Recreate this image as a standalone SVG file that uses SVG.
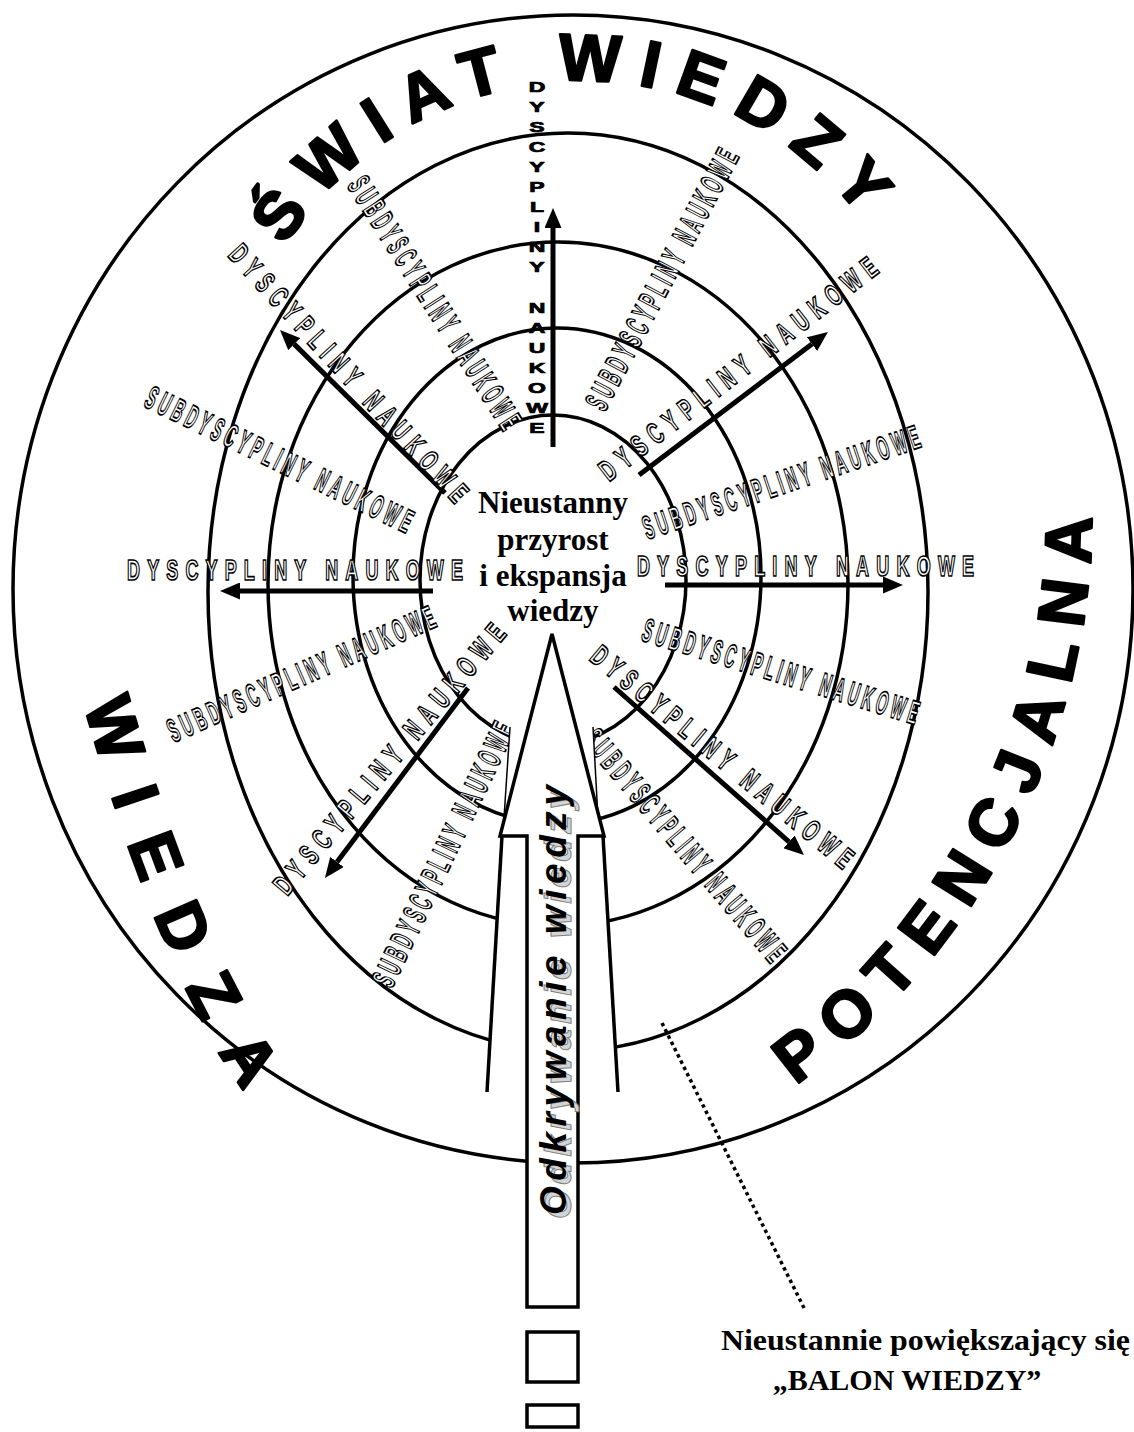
<svg xmlns="http://www.w3.org/2000/svg" width="1134" height="1432" viewBox="0 0 1134 1432">
<defs>
<style>
.ring{fill:none;stroke:#000;stroke-width:3.5}
.spoke{fill:none;stroke:#000;stroke-width:5;marker-end:url(#ah)}
.big{font-family:"Liberation Sans",Arial,sans-serif;font-weight:bold;font-size:66px;fill:#000;stroke:#000;stroke-width:2.5px;stroke-linejoin:round}
.dl{font-family:"Liberation Sans",Arial,sans-serif;font-weight:bold;font-size:30px;fill:#fff;stroke:#000;stroke-width:1.4px;vector-effect:non-scaling-stroke;text-anchor:middle}
.sl{font-family:"Liberation Sans",Arial,sans-serif;font-weight:bold;font-size:33px;fill:#fff;stroke:#000;stroke-width:1.4px;vector-effect:non-scaling-stroke;text-anchor:middle}
.vl{font-family:"Liberation Sans",Arial,sans-serif;font-weight:bold;font-size:23px;fill:#000;stroke:#000;stroke-width:1.2px;text-anchor:middle;white-space:pre}
.ser{font-family:"Liberation Serif","Times New Roman",serif;font-weight:bold;font-size:31px;fill:#000;text-anchor:middle}
.odk{font-family:"Liberation Sans",Arial,sans-serif;font-weight:bold;font-style:italic;font-size:37px}
.wh{fill:#fff;stroke:none}
.edge{fill:none;stroke:#000;stroke-width:3.5}
</style>
<marker id="ah" markerUnits="strokeWidth" markerWidth="4" markerHeight="3.4" viewBox="0 0 4 3.4" refX="0" refY="1.7" orient="auto"><path d="M0,0 L4,1.7 L0,3.4 z" fill="#000"/></marker>
<path id="pTop" d="M237.3,371.1 A351,351 0 0 1 928.7,371.1"/>
<path id="pLeft" d="M80,690 Q157,969 250,1100"/>
<path id="pRight" d="M739.5,1120.5 A705,705 0 0 0 1081.3,387.6"/>
</defs>
<rect width="1134" height="1432" fill="#fff"/>

<g id="rings">
<ellipse id="outer" class="ring" cx="573" cy="589" rx="560" ry="574"/>
<ellipse id="ring4" class="ring" cx="568" cy="592" rx="360" ry="459"/>
<ellipse id="ring3" class="ring" cx="558" cy="584" rx="290" ry="342"/>
<ellipse id="ring2" class="ring" cx="557" cy="576" rx="204" ry="248"/>
<ellipse id="ring1" class="ring" cx="553" cy="580" rx="133" ry="165"/>
</g>

<g id="titles">
<text class="big" letter-spacing="17.5"><textPath href="#pTop" startOffset="134">ŚWIAT WIEDZY</textPath></text>
<text class="big" letter-spacing="32"><textPath href="#pLeft" startOffset="15">WIEDZA</textPath></text>
<text class="big" letter-spacing="17"><textPath href="#pRight" startOffset="66">POTENCJALNA</textPath></text>
</g>

<g id="connectors">
<line class="spoke" x1="553" y1="447" x2="553" y2="228"/>
<line class="spoke" x1="433" y1="591" x2="240" y2="591"/>
<line class="spoke" x1="665" y1="585" x2="883" y2="585"/>
<line class="spoke" x1="445" y1="493" x2="294.2" y2="344.1"/>
<line class="spoke" x1="639" y1="475" x2="812" y2="344.1"/>
<line class="spoke" x1="468" y1="688" x2="337" y2="862"/>
<line class="spoke" x1="614" y1="687" x2="789" y2="841.8"/>
<line id="leader" x1="662" y1="1023" x2="805" y2="1310" stroke="#000" stroke-width="3.5" stroke-dasharray="3.5 3.5"/>
</g>

<g id="labels">
<text class="vl" transform="scale(1,0.6)"><tspan x="537" y="153.2">D</tspan><tspan x="537" y="186.7">Y</tspan><tspan x="537" y="220.1">S</tspan><tspan x="537" y="253.5">C</tspan><tspan x="537" y="287">Y</tspan><tspan x="537" y="320.4">P</tspan><tspan x="537" y="353.8">L</tspan><tspan x="537" y="387.3">I</tspan><tspan x="537" y="420.7">N</tspan><tspan x="537" y="454.1">Y</tspan><tspan x="537" y="487.6"> </tspan><tspan x="537" y="521">N</tspan><tspan x="537" y="554.4">A</tspan><tspan x="537" y="587.9">U</tspan><tspan x="537" y="621.3">K</tspan><tspan x="537" y="654.7">O</tspan><tspan x="537" y="688.2">W</tspan><tspan x="537" y="721.6">E</tspan></text>

<text class="dl" transform="translate(295,569) scale(0.6,1)" dy="0.36em" textLength="560" lengthAdjust="spacing">DYSCYPLINY NAUKOWE</text>
<text class="dl" transform="translate(805.5,565) scale(0.6,1)" dy="0.36em" textLength="562" lengthAdjust="spacing">DYSCYPLINY NAUKOWE</text>
<text class="dl" transform="translate(349,373) rotate(47.5) scale(0.6,1)" dy="0.36em" textLength="563" lengthAdjust="spacing">DYSCYPLINY NAUKOWE</text>
<text class="dl" transform="translate(389,758.5) rotate(-50) scale(0.6,1)" dy="0.36em" textLength="571" lengthAdjust="spacing">DYSCYPLINY NAUKOWE</text>
<text class="dl" transform="translate(722.5,756.5) rotate(39.6) scale(0.6,1)" dy="0.36em" textLength="551" lengthAdjust="spacing">DYSCYPLINY NAUKOWE</text>
<text class="dl" transform="translate(738,368.5) rotate(-37.8) scale(0.6,1)" dy="0.36em" textLength="572" lengthAdjust="spacing">DYSCYPLINY NAUKOWE</text>

<text class="sl" transform="translate(435,302.5) rotate(57.5) scale(0.45,1)" dy="0.36em" textLength="650" lengthAdjust="spacing">SUBDYSCYPLINY NAUKOWE</text>
<text class="sl" transform="translate(279.5,459) rotate(25.9) scale(0.45,1)" dy="0.36em" textLength="651" lengthAdjust="spacing">SUBDYSCYPLINY NAUKOWE</text>
<text class="sl" transform="translate(301,673.5) rotate(-23.8) scale(0.45,1)" dy="0.36em" textLength="643" lengthAdjust="spacing">SUBDYSCYPLINY NAUKOWE</text>
<text class="sl" transform="translate(443,854) rotate(-64.5) scale(0.45,1)" dy="0.36em" textLength="641" lengthAdjust="spacing">SUBDYSCYPLINY NAUKOWE</text>
<text class="sl" transform="translate(685,845) rotate(49.6) scale(0.45,1)" dy="0.36em" textLength="652" lengthAdjust="spacing">SUBDYSCYPLINY NAUKOWE</text>
<text class="sl" transform="translate(781,671) rotate(17.1) scale(0.45,1)" dy="0.36em" textLength="639" lengthAdjust="spacing">SUBDYSCYPLINY NAUKOWE</text>
<text class="sl" transform="translate(781,482) rotate(-18.7) scale(0.45,1)" dy="0.36em" textLength="646" lengthAdjust="spacing">SUBDYSCYPLINY NAUKOWE</text>
<text class="sl" transform="translate(661.5,279) rotate(-62.2) scale(0.45,1)" dy="0.36em" textLength="644" lengthAdjust="spacing">SUBDYSCYPLINY NAUKOWE</text>
</g>

<g id="center">
<text class="ser"><tspan x="553" y="513">Nieustanny</tspan><tspan x="553" y="550">przyrost</tspan><tspan x="553" y="586">i ekspansja</tspan><tspan x="553" y="621">wiedzy</tspan></text>
</g>

<g id="discovery-arrow">
<polygon class="wh" points="510,727 593,727 598,818 504,818"/>
<line x1="510" y1="727" x2="504" y2="818" stroke="#000" stroke-width="1.5"/>
<line x1="593" y1="727" x2="598" y2="818" stroke="#000" stroke-width="1.5"/>
<polygon class="wh" points="502,836 603,836 618,1092 487,1092"/>
<line class="edge" x1="502" y1="836" x2="487" y2="1092"/>
<line class="edge" x1="603" y1="836" x2="618" y2="1092"/>
<polygon points="552,634 604,836 578,836 578,1307 527,1307 527,836 500,836" fill="#fff" stroke="#000" stroke-width="3.5"/>
<text class="odk" transform="translate(571,1219) rotate(-90)" textLength="430" lengthAdjust="spacing" fill="#d4d4d4" stroke="#808080" stroke-width="1">Odkrywanie wiedzy</text>
<text class="odk" transform="translate(566,1215) rotate(-90)" textLength="430" lengthAdjust="spacing" fill="#000">Odkrywanie wiedzy</text>
<rect x="527" y="1332" width="51" height="50" fill="#fff" stroke="#000" stroke-width="3.5"/>
<rect x="527" y="1405" width="51" height="22" fill="#fff" stroke="#000" stroke-width="3.5"/>
</g>

<g id="balloon-note">
<text class="ser" style="font-size:30px"><tspan x="925.5" y="1350" textLength="409" lengthAdjust="spacingAndGlyphs">Nieustannie powiększający się</tspan><tspan x="907" y="1390">„BALON WIEDZY”</tspan></text>
</g>
</svg>
